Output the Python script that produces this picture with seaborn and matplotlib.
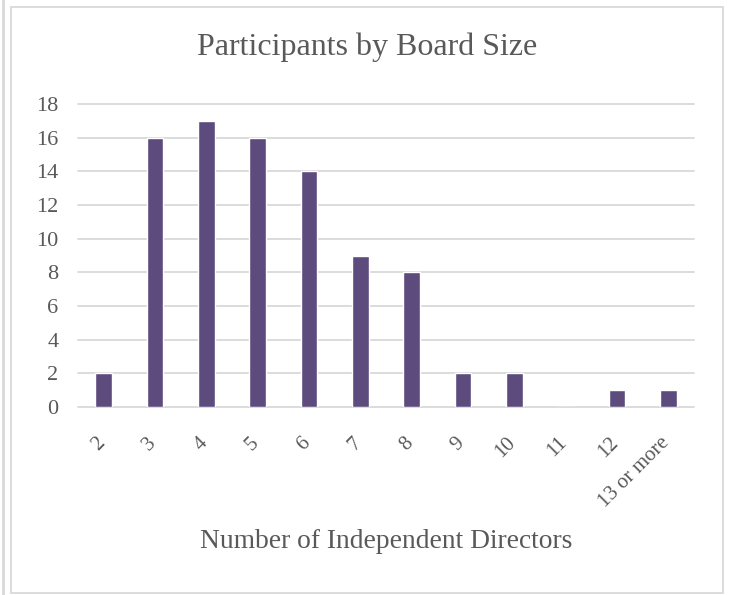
import matplotlib
matplotlib.use("Agg")
import matplotlib.pyplot as plt
import matplotlib.transforms as mtransforms
from matplotlib.patches import Rectangle
from matplotlib.lines import Line2D
import seaborn as sns

# data
board_sizes = ["2", "3", "4", "5", "6", "7", "8", "9", "10", "11", "12", "13 or more"]
participants = [2, 16, 17, 16, 14, 9, 8, 2, 2, 0, 1, 1]
y_ticks = [0, 2, 4, 6, 8, 10, 12, 14, 16, 18]

BAR_COLOR = "#5E4B7E"
TEXT_COLOR = "#595959"
GRID_COLOR = "#D9D9D9"

sns.set_theme(style="white")
plt.rcParams["font.family"] = ["Liberation Serif", "DejaVu Serif"]

W, H = 731, 595
fig = plt.figure(figsize=(W / 100, H / 100), dpi=100)
ax = fig.add_axes([78 / W, 1 - 407 / H, (694 - 78) / W, (407 - 104) / H])

sns.barplot(x=board_sizes, y=participants, color=BAR_COLOR, saturation=1,
            width=0.32, ax=ax)

ax.set_xlim(-0.5, len(board_sizes) - 0.5)
ax.set_ylim(0, 18)
ax.set_yticks(y_ticks)
ax.set_axisbelow(True)
ax.yaxis.grid(True, color=GRID_COLOR, linewidth=1.3)
for line in ax.get_ygridlines():
    line.set_clip_on(False)
for side in ["top", "right", "left", "bottom"]:
    ax.spines[side].set_visible(False)

ax.set_xlabel("")
ax.set_ylabel("")
ax.tick_params(axis="y", length=0, pad=14, labelsize=16, labelcolor=TEXT_COLOR)
ax.tick_params(axis="x", length=0, pad=19, labelsize=15, labelcolor=TEXT_COLOR)
shift = mtransforms.ScaledTranslation(5 / 100, 0, fig.dpi_scale_trans)
for lbl in ax.get_xticklabels():
    lbl.set_rotation(45)
    lbl.set_ha("right")
    lbl.set_va("top")
    lbl.set_transform(lbl.get_transform() + shift)

fig.text(367 / W, 1 - 47 / H, "Participants by Board Size", ha="center", va="center",
         fontsize=23, color=TEXT_COLOR)
fig.text(386 / W, 1 - 542 / H, "Number of Independent Directors", ha="center",
         va="center", fontsize=19.8, color=TEXT_COLOR)

# chart frame
fig.patches.append(Rectangle((11 / W, 1 - 593 / H), (723 - 11) / W, (593 - 7) / H,
                             transform=fig.transFigure, fill=False,
                             edgecolor=GRID_COLOR, linewidth=1.3))
fig.lines.append(Line2D([3 / W, 3 / W], [0, 1], transform=fig.transFigure,
                        color=GRID_COLOR, linewidth=2))

fig.savefig("out.png", dpi=100)
